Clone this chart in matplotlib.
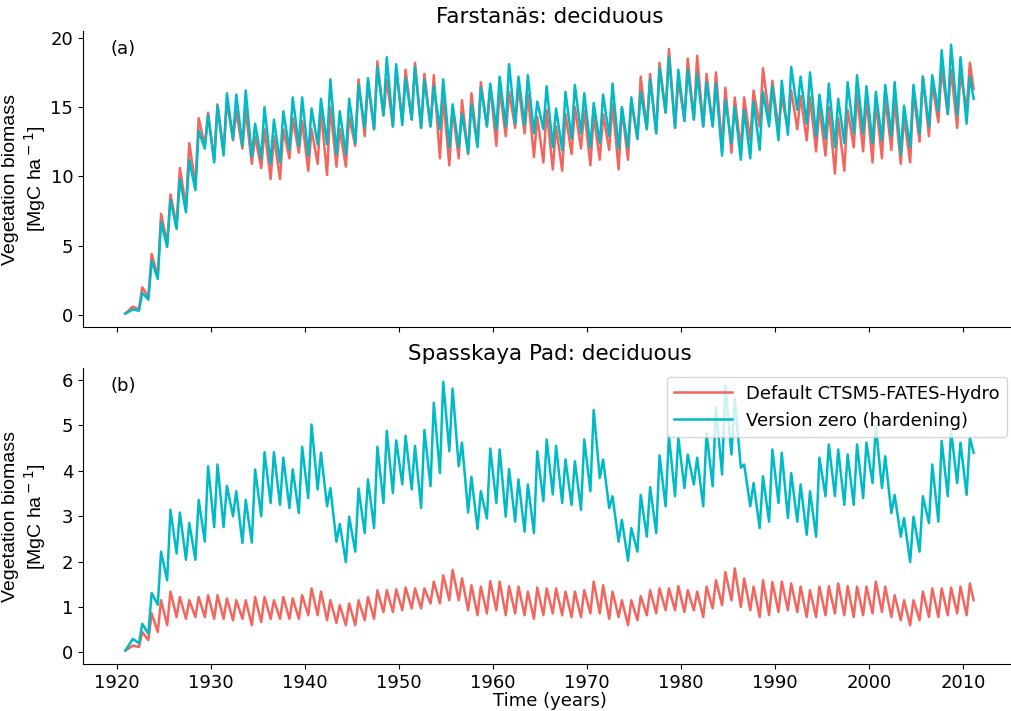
import numpy as np
import matplotlib.pyplot as plt
from matplotlib.ticker import MultipleLocator

years = np.arange(1921, 2011)

# Farstanäs, deciduous: yearly low (late winter) and high (summer), MgC/ha
fa_default_low = [0.1, 0.4, 1.3, 2.8, 5.2, 6.5, 7.8, 9.4, 12.2, 11.2,
                  11.8, 12.6, 12.0, 10.9, 10.6, 9.8, 9.8, 11.3, 11.7, 10.4,
                  10.9, 10.1, 10.7, 10.7, 12.2, 12.9, 13.4, 14.4, 13.6, 14.0,
                  14.1, 13.5, 13.6, 11.3, 10.8, 11.3, 11.6, 12.2, 13.6, 12.2,
                  12.9, 13.5, 13.1, 11.4, 11.0, 10.5, 10.4, 11.6, 12.0, 10.8,
                  11.2, 11.9, 10.5, 11.2, 12.7, 13.4, 13.1, 14.6, 13.5, 14.0,
                  14.1, 13.6, 13.6, 12.1, 11.7, 11.9, 12.6, 13.6, 14.3, 13.4,
                  13.4, 13.4, 12.6, 11.8, 11.5, 10.2, 10.4, 12.1, 11.8, 11.0,
                  11.3, 11.9, 10.9, 11.0, 12.5, 12.9, 13.9, 14.5, 13.5, 14.8]
fa_default_high = [0.6, 2.0, 4.4, 7.3, 8.7, 10.6, 12.4, 14.2, 14.6, 15.2,
                   15.4, 14.7, 14.8, 12.9, 13.4, 12.9, 13.4, 14.2, 14.0, 13.4,
                   14.8, 15.0, 13.4, 14.3, 17.0, 16.7, 18.3, 17.0, 17.7, 17.7,
                   18.2, 17.4, 17.3, 15.7, 14.8, 15.5, 16.0, 16.8, 16.5, 16.3,
                   16.1, 16.5, 15.9, 14.3, 14.8, 13.6, 14.5, 15.0, 14.8, 14.4,
                   14.5, 15.2, 14.9, 15.4, 17.2, 17.4, 18.2, 19.2, 17.0, 18.5,
                   18.7, 17.4, 17.5, 16.4, 15.7, 15.7, 16.2, 17.8, 16.9, 15.7,
                   16.2, 15.8, 15.7, 15.0, 15.0, 14.2, 14.8, 15.9, 15.7, 15.4,
                   15.7, 15.5, 14.3, 16.0, 17.2, 16.7, 17.8, 17.7, 17.4, 18.2]
fa_default_end = 16.3

fa_hard_low = [0.1, 0.3, 1.1, 2.6, 4.9, 6.2, 7.4, 9.0, 12.0, 11.0,
               11.5, 12.7, 12.2, 11.4, 11.3, 10.9, 11.0, 11.9, 12.2, 11.5,
               12.3, 12.3, 11.6, 11.6, 12.4, 13.5, 13.4, 14.4, 13.6, 13.7,
               14.1, 13.5, 13.6, 13.4, 12.1, 12.1, 11.7, 12.1, 13.6, 13.4,
               13.6, 13.8, 13.7, 13.1, 13.4, 12.1, 11.9, 12.7, 13.1, 12.1,
               12.4, 12.9, 12.0, 12.1, 12.7, 13.4, 13.1, 14.6, 13.5, 14.0,
               14.1, 13.6, 13.6, 11.5, 12.4, 11.2, 11.3, 11.9, 13.6, 12.6,
               13.0, 14.8, 13.8, 12.9, 12.7, 12.1, 12.4, 13.1, 13.1, 12.4,
               12.6, 12.9, 11.6, 12.1, 13.1, 13.6, 14.7, 14.5, 14.4, 13.8]
fa_hard_high = [0.4, 1.6, 3.9, 6.7, 8.3, 9.8, 11.2, 13.3, 14.4, 15.1,
                16.0, 15.9, 16.2, 13.8, 15.0, 14.1, 14.7, 15.7, 15.7, 14.9,
                15.6, 17.0, 14.7, 15.6, 16.6, 17.1, 17.9, 18.6, 18.1, 17.1,
                17.9, 17.0, 16.5, 17.0, 15.2, 14.5, 15.2, 16.4, 16.7, 17.2,
                18.1, 17.2, 17.3, 15.4, 16.5, 14.9, 16.1, 16.6, 16.0, 15.3,
                15.9, 16.7, 15.0, 15.7, 16.1, 17.0, 17.8, 18.6, 17.7, 17.7,
                17.4, 16.8, 16.7, 15.5, 15.0, 14.8, 15.4, 16.1, 16.5, 16.9,
                17.9, 17.2, 17.5, 15.9, 16.7, 15.6, 16.8, 17.3, 16.5, 16.1,
                16.6, 16.8, 15.1, 16.6, 17.2, 17.3, 19.1, 19.5, 18.6, 17.2]
fa_hard_end = 15.6

# Spasskaya Pad, deciduous
sp_default_low = [0.04, 0.12, 0.27, 0.45, 0.60, 0.78, 0.74, 0.78, 0.78, 0.74,
                  0.74, 0.71, 0.74, 0.60, 0.67, 0.74, 0.74, 0.74, 0.74, 0.82,
                  0.82, 0.71, 0.65, 0.60, 0.60, 0.71, 0.74, 0.89, 0.89, 0.93,
                  0.97, 0.97, 1.08, 1.08, 1.15, 1.15, 0.93, 0.82, 0.86, 0.93,
                  0.82, 0.86, 0.82, 0.74, 0.82, 0.86, 0.82, 0.78, 0.78, 0.86,
                  0.86, 0.74, 0.78, 0.60, 0.71, 0.82, 0.86, 0.93, 0.93, 0.89,
                  0.93, 0.78, 0.97, 1.04, 1.15, 1.00, 0.93, 0.78, 0.82, 0.89,
                  0.93, 0.89, 0.78, 0.78, 0.82, 0.86, 0.82, 0.78, 0.82, 0.86,
                  0.89, 0.78, 0.71, 0.60, 0.71, 0.78, 0.78, 0.82, 0.86, 0.82]
sp_default_high = [0.15, 0.45, 0.86, 1.15, 1.34, 1.22, 1.15, 1.22, 1.26, 1.26,
                   1.19, 1.15, 1.15, 1.22, 1.22, 1.15, 1.22, 1.19, 1.26, 1.41,
                   1.34, 1.15, 1.04, 1.08, 1.15, 1.22, 1.37, 1.37, 1.39, 1.43,
                   1.41, 1.41, 1.56, 1.70, 1.82, 1.63, 1.48, 1.45, 1.57, 1.56,
                   1.46, 1.45, 1.34, 1.43, 1.41, 1.41, 1.34, 1.34, 1.37, 1.56,
                   1.48, 1.34, 1.15, 1.15, 1.24, 1.37, 1.41, 1.41, 1.46, 1.37,
                   1.34, 1.45, 1.59, 1.77, 1.85, 1.63, 1.45, 1.59, 1.55, 1.56,
                   1.52, 1.45, 1.37, 1.45, 1.46, 1.52, 1.46, 1.45, 1.45, 1.56,
                   1.45, 1.26, 1.15, 1.15, 1.34, 1.41, 1.41, 1.43, 1.45, 1.52]
sp_default_end = 1.15

sp_hard_low = [0.04, 0.20, 0.41, 1.05, 1.59, 2.18, 2.04, 2.04, 2.44, 2.76,
               2.76, 3.00, 2.41, 2.42, 3.00, 3.29, 3.25, 3.18, 3.07, 3.40,
               3.59, 3.22, 2.44, 1.99, 2.22, 2.63, 2.74, 3.29, 3.51, 3.70,
               3.59, 3.18, 3.66, 3.95, 4.43, 4.10, 3.08, 2.72, 2.95, 3.29,
               2.99, 2.88, 2.66, 2.63, 3.33, 3.48, 3.29, 3.25, 3.14, 3.55,
               3.84, 3.18, 2.44, 2.02, 2.22, 2.55, 2.63, 3.22, 3.44, 3.62,
               3.70, 3.22, 3.66, 3.92, 4.36, 4.07, 3.22, 2.74, 2.88, 3.29,
               2.96, 2.88, 2.59, 2.55, 3.44, 3.44, 3.25, 3.25, 3.40, 3.73,
               3.62, 3.07, 2.55, 1.99, 2.22, 2.85, 2.88, 3.44, 3.73, 3.47]
sp_hard_high = [0.30, 0.63, 1.31, 2.22, 3.14, 3.08, 2.85, 3.36, 4.10, 4.14,
                3.67, 3.55, 3.36, 4.03, 4.41, 4.41, 4.29, 4.03, 4.53, 5.02,
                4.40, 3.62, 2.83, 2.99, 3.61, 3.81, 4.53, 4.88, 4.67, 4.77,
                4.55, 4.90, 5.50, 5.96, 5.81, 4.62, 3.87, 3.55, 4.49, 4.47,
                4.04, 3.81, 3.70, 4.43, 4.69, 4.55, 4.25, 4.21, 4.69, 5.34,
                4.25, 3.44, 2.92, 2.74, 3.47, 3.64, 4.34, 4.77, 4.73, 4.36,
                4.29, 4.84, 5.39, 5.87, 5.58, 4.14, 3.73, 3.88, 4.47, 4.40,
                3.95, 3.70, 3.55, 4.29, 4.58, 4.47, 4.36, 4.58, 4.62, 4.99,
                4.32, 3.47, 2.96, 2.99, 3.44, 4.14, 4.66, 4.88, 4.62, 4.73]
sp_hard_end = 4.4

c_default = '#F2665E'
c_hard = '#00BAC6'


def seasonal(low, high, end):
    # low in spring, high in summer, then decline to next spring
    t = np.column_stack([years + 0.35, years + 0.7]).ravel()
    v = np.column_stack([low, high]).ravel()
    t[0] = 1920.9
    return np.append(t, 2011.1), np.append(v, end)


plt.rcParams['font.family'] = 'DejaVu Sans'
fig, (ax1, ax2) = plt.subplots(2, 1, sharex=True, figsize=(10.11, 7.11), dpi=100)
fig.subplots_adjust(left=0.082, right=1.005, top=0.956, bottom=0.066, hspace=0.14)

t, v = seasonal(fa_default_low, fa_default_high, fa_default_end)
ax1.plot(t, v, color=c_default, lw=1.8, label='Default CTSM5-FATES-Hydro')
t, v = seasonal(fa_hard_low, fa_hard_high, fa_hard_end)
ax1.plot(t, v, color=c_hard, lw=1.8, label='Version zero (hardening)')

t, v = seasonal(sp_default_low, sp_default_high, sp_default_end)
ax2.plot(t, v, color=c_default, lw=1.8, label='Default CTSM5-FATES-Hydro')
t, v = seasonal(sp_hard_low, sp_hard_high, sp_hard_end)
ax2.plot(t, v, color=c_hard, lw=1.8, label='Version zero (hardening)')

ax1.set_title('Farstanäs: deciduous', fontsize=15.5)
ax2.set_title('Spasskaya Pad: deciduous', fontsize=15.5)
for ax, tag in [(ax1, '(a)'), (ax2, '(b)')]:
    ax.spines['top'].set_visible(False)
    ax.spines['right'].set_visible(False)
    ax.set_ylabel('Vegetation biomass\n[MgC ha$^-$$^1$]', fontsize=14,
                  family=['Liberation Sans', 'DejaVu Sans'])
    ax.yaxis.set_label_coords(-0.037, 0.5)
    ax.tick_params(labelsize=13)
    ax.text(0.03, 0.97, tag, transform=ax.transAxes, fontsize=13, va='top')

ax2.xaxis.set_major_locator(MultipleLocator(10))
ax2.set_xlabel('Time (years)', fontsize=13, labelpad=0)
ax2.legend(loc='upper right', fontsize=13, handlelength=3.2)

fig.savefig('out.png', dpi=100)
